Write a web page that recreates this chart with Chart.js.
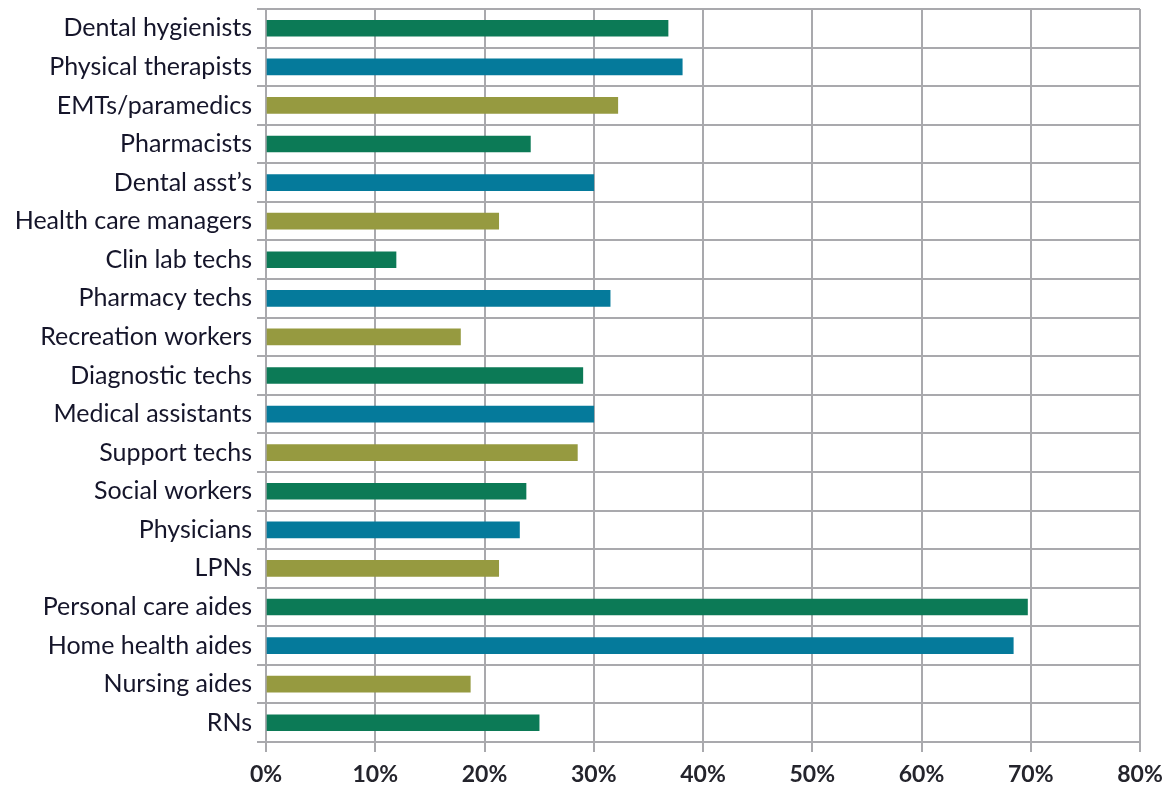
<!DOCTYPE html>
<html>
<head>
<meta charset="utf-8">
<script src="https://cdn.jsdelivr.net/npm/chart.js@4/dist/chart.umd.min.js"></script>
<style>
  html, body { margin: 0; padding: 0; background: #ffffff; }
  #wrap { width: 1166px; height: 793px; position: relative; }
</style>
</head>
<body>
<div id="wrap"><canvas id="chart"></canvas></div>
<script>
// Occupations, top to bottom
const occupations = [
  "Dental hygienists", "Physical therapists", "EMTs/paramedics", "Pharmacists",
  "Dental asst\u2019s", "Health care managers", "Clin lab techs", "Pharmacy techs",
  "Recreation workers", "Diagnostic techs", "Medical assistants", "Support techs",
  "Social workers", "Physicians", "LPNs", "Personal care aides",
  "Home health aides", "Nursing aides", "RNs"
];

// Share of workers, percent
const shares = [
  36.8, 38.1, 32.2, 24.2,
  30.0, 21.3, 11.9, 31.5,
  17.8, 29.0, 30.0, 28.5,
  23.8, 23.2, 21.3, 69.7,
  68.4, 18.7, 25.0
];

// Axis tick values, percent
const xTicks = [0, 10, 20, 30, 40, 50, 60, 70, 80];

// Bar colours cycle green, teal, olive
const palette = ["#0c7a56", "#057a9b", "#969a40"];
const barColors = occupations.map((_, i) => palette[i % 3]);

const gridGrey = "#a9a9ad";

new Chart(document.getElementById("chart"), {
  type: "bar",
  data: {
    labels: occupations,
    datasets: [{
      data: shares,
      backgroundColor: barColors,
      borderWidth: 0,
      barThickness: 16
    }]
  },
  options: {
    indexAxis: "y",
    responsive: true,
    maintainAspectRatio: false,
    animation: false,
    layout: { padding: { top: 9, right: 26, left: 0, bottom: 0 } },
    plugins: {
      legend: { display: false },
      tooltip: { enabled: false }
    },
    scales: {
      x: {
        min: 0,
        max: 80,
        afterBuildTicks: (scale) => { scale.ticks = xTicks.map(v => ({ value: v })); },
        afterFit: (scale) => {
          scale.height = 51;
          scale.paddingLeft = 0;
          scale.paddingRight = 0;
        },
        grid: {
          color: gridGrey,
          lineWidth: 2,
          tickLength: 10,
          drawTicks: true
        },
        border: { display: true, color: gridGrey, width: 2 },
        ticks: {
          callback: (v) => v + "%",
          color: "#24242c",
          padding: 9,
          maxRotation: 0,
          font: { family: "Lato", size: 23, weight: "bold" }
        }
      },
      y: {
        afterFit: (scale) => {
          scale.width = 266;
          scale.paddingTop = 0;
          scale.paddingBottom = 0;
        },
        grid: {
          color: gridGrey,
          lineWidth: 2,
          tickLength: 9,
          offset: true
        },
        border: { display: true, color: gridGrey, width: 2 },
        ticks: {
          color: "#15152a",
          padding: 5,
          autoSkip: false,
          font: { family: "Lato", size: 25 }
        }
      }
    }
  }
});
</script>
</body>
</html>
